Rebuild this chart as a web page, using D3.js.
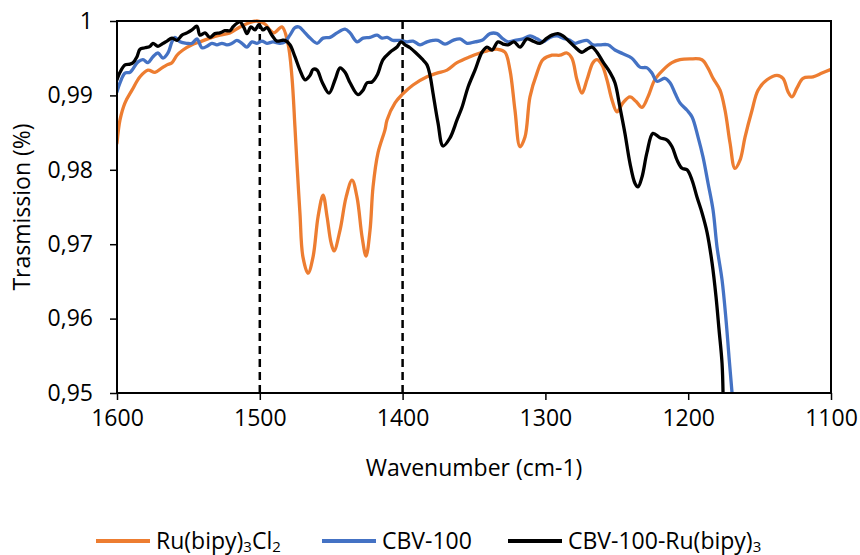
<!DOCTYPE html>
<html>
<head>
<meta charset="utf-8">
<script src="https://cdn.jsdelivr.net/npm/d3@7"></script>
<style>
  html, body { margin: 0; padding: 0; background: #fff; }
  svg { display: block; }
  text { font-family: "Open Sans", "Noto Sans", sans-serif; fill: #000; }
</style>
</head>
<body>
<svg id="chart" width="860" height="555"></svg>
<script>
// ---------- data ----------
const xTicks = [1600, 1500, 1400, 1300, 1200, 1100];
const yTicks = [0.95, 0.96, 0.97, 0.98, 0.99, 1];
const yTickLabels = ["0,95", "0,96", "0,97", "0,98", "0,99", "1"];
const markerLines = [1500, 1400];
const seriesNames = ["Ru(bipy)3Cl2", "CBV-100", "CBV-100-Ru(bipy)3"];
const seriesColors = ["#ED7D31", "#4472C4", "#000000"];

// Ru(bipy)3Cl2
const ruWn = [1600,1597.9,1594.4,1589.5,1583.9,1578.3,1573.4,1568.5,1565.0,1561.5,1558.0,1553.8,1547.5,1541.9,1534.9,1527.9,1520.9,1513.9,1508.3,1502.0,1496.4,1492.9,1490.0,1484.5,1480.3,1477.5,1475.4,1474.0,1471.9,1469.8,1466.2,1462.7,1459.2,1455.7,1452.9,1450.1,1448.0,1443.8,1439.6,1435.4,1431.9,1428.4,1425.6,1422.8,1420.7,1417.2,1412.3,1410.9,1405.3,1400.4,1392.7,1382.9,1375.9,1368.9,1361.9,1352.8,1345.8,1338.8,1333.2,1328.3,1324.8,1321.3,1317.8,1314.3,1310.8,1305.9,1301.7,1295.4,1289.8,1284.9,1281.4,1277.9,1274.4,1270.9,1266.7,1263.9,1260.4,1256.9,1253.4,1249.9,1245.7,1240.8,1236.6,1232.4,1228.2,1223.4,1217.7,1211.4,1205.8,1198.8,1190.4,1186.2,1182.6,1177.7,1174.2,1170.7,1167.3,1163.7,1160.2,1155.3,1151.1,1144.8,1137.8,1133.6,1130.1,1127.3,1123.8,1119.6,1112.6,1106.3,1100];
const ruT  = [0.9836,0.9867,0.9890,0.9907,0.9925,0.9934,0.9931,0.9937,0.9941,0.9944,0.9954,0.9961,0.9968,0.9972,0.9977,0.9981,0.9984,0.9992,0.9997,1.0000,0.9996,0.9988,0.9984,0.9992,0.9970,0.9925,0.9858,0.9809,0.9742,0.9683,0.9661,0.9683,0.9737,0.9766,0.9737,0.9702,0.9691,0.9719,0.9763,0.9786,0.9763,0.9710,0.9684,0.9719,0.9777,0.9823,0.9854,0.9867,0.9890,0.9901,0.9914,0.9925,0.9930,0.9934,0.9944,0.9952,0.9957,0.9961,0.9962,0.9958,0.9934,0.9880,0.9831,0.9844,0.9898,0.9930,0.9948,0.9954,0.9954,0.9957,0.9950,0.9921,0.9903,0.9921,0.9944,0.9948,0.9941,0.9921,0.9894,0.9878,0.9890,0.9898,0.9892,0.9884,0.9898,0.9921,0.9934,0.9944,0.9948,0.9949,0.9948,0.9937,0.9923,0.9907,0.9880,0.9836,0.9802,0.9813,0.9844,0.9880,0.9907,0.9921,0.9927,0.9923,0.9905,0.9898,0.9910,0.9923,0.9925,0.9930,0.9935];

// CBV-100
const cbvWn = [1600,1597.9,1594.4,1590.9,1585.3,1581.8,1578.3,1574.8,1571.3,1567.8,1564.3,1561.5,1559.4,1555.9,1551.0,1547.5,1544.0,1540.5,1537.0,1533.5,1530.0,1526.5,1523.0,1519.5,1516.0,1512.5,1509.0,1505.5,1502.0,1498.5,1495.0,1490.8,1485.9,1482.4,1478.9,1475.4,1472.5,1468.3,1464.8,1459.9,1455.7,1450.8,1445.9,1440.3,1436.8,1431.9,1427.7,1422.8,1417.9,1414.4,1410.9,1406.7,1401.8,1396.9,1392.7,1387.8,1382.9,1378.7,1375.2,1370.3,1364.7,1359.8,1354.9,1349.3,1344.4,1338.8,1333.9,1330.4,1326.2,1321.3,1315.7,1310.8,1305.9,1301.7,1296.8,1291.9,1287.7,1282.8,1279.3,1275.8,1270.9,1266.7,1261.8,1256.2,1251.3,1245.7,1239.4,1233.8,1228.8,1225.4,1221.9,1216.3,1212.7,1209.2,1205.8,1200.8,1197.3,1193.1,1189.6,1186.1,1182.6,1179.8,1176.3,1173.5,1171.4,1169.3];
const cbvT  = [0.9905,0.9917,0.9930,0.9931,0.9945,0.9948,0.9944,0.9952,0.9957,0.9950,0.9957,0.9972,0.9978,0.9972,0.9970,0.9970,0.9976,0.9964,0.9966,0.9970,0.9968,0.9970,0.9968,0.9970,0.9974,0.9970,0.9965,0.9972,0.9970,0.9973,0.9970,0.9972,0.9970,0.9972,0.9981,0.9991,0.9992,0.9984,0.9977,0.9970,0.9977,0.9978,0.9984,0.9989,0.9984,0.9972,0.9977,0.9978,0.9981,0.9977,0.9978,0.9974,0.9974,0.9972,0.9973,0.9968,0.9972,0.9974,0.9974,0.9969,0.9974,0.9976,0.9970,0.9972,0.9974,0.9983,0.9983,0.9977,0.9972,0.9974,0.9976,0.9980,0.9976,0.9972,0.9978,0.9980,0.9977,0.9974,0.9970,0.9972,0.9974,0.9968,0.9968,0.9968,0.9961,0.9956,0.9950,0.9938,0.9937,0.9930,0.9919,0.9923,0.9917,0.9903,0.9890,0.9880,0.9871,0.9844,0.9817,0.9782,0.9746,0.9696,0.9652,0.9598,0.9548,0.9500];

// CBV-100-Ru(bipy)3
const mixWn = [1600,1597.9,1594.4,1590.9,1588.8,1586.0,1583.9,1580.4,1576.9,1574.8,1571.3,1567.8,1565.0,1561.5,1558.0,1554.5,1551.0,1547.5,1544.0,1541.9,1538.4,1534.9,1531.4,1527.9,1524.4,1520.9,1518.8,1516.0,1513.9,1511.1,1509.0,1506.2,1503.4,1500.6,1497.8,1495.0,1491.5,1488.0,1484.5,1482.4,1478.9,1475.4,1471.9,1468.3,1464.8,1462.7,1459.9,1456.4,1451.5,1447.3,1443.8,1440.3,1436.8,1431.2,1427.7,1424.9,1421.4,1417.9,1413.7,1408.8,1403.9,1401.1,1398.3,1394.8,1390.6,1386.4,1382.9,1380.8,1378.7,1375.2,1371.7,1366.8,1361.9,1358.4,1354.2,1349.3,1344.4,1340.9,1337.4,1333.2,1329.7,1326.2,1322.0,1317.8,1312.9,1308.7,1303.8,1298.9,1295.4,1291.2,1287.7,1284.2,1279.3,1274.4,1270.9,1267.4,1263.9,1259.7,1254.8,1251.3,1247.8,1244.3,1240.8,1237.3,1235.2,1232.4,1228.9,1224.7,1219.8,1214.8,1211.3,1207.8,1204.3,1200.8,1197.3,1193.8,1190.3,1186.8,1183.3,1180.5,1178.4,1176.3,1175.6];
const mixT  = [0.9921,0.9931,0.9941,0.9942,0.9944,0.9952,0.9962,0.9964,0.9966,0.9970,0.9966,0.9970,0.9973,0.9977,0.9974,0.9981,0.9984,0.9988,0.9993,0.9981,0.9984,0.9978,0.9983,0.9984,0.9987,0.9987,0.9992,0.9997,0.9999,0.9991,0.9983,0.9992,0.9988,0.9995,0.9988,0.9991,0.9981,0.9973,0.9974,0.9974,0.9968,0.9952,0.9934,0.9921,0.9927,0.9935,0.9934,0.9918,0.9903,0.9921,0.9937,0.9931,0.9917,0.9901,0.9907,0.9917,0.9918,0.9927,0.9948,0.9958,0.9965,0.9972,0.9968,0.9964,0.9957,0.9949,0.9941,0.9927,0.9903,0.9863,0.9832,0.9843,0.9867,0.9884,0.9911,0.9934,0.9958,0.9965,0.9961,0.9972,0.9969,0.9968,0.9972,0.9965,0.9976,0.9973,0.9970,0.9977,0.9981,0.9983,0.9980,0.9974,0.9965,0.9958,0.9962,0.9965,0.9958,0.9945,0.9931,0.9917,0.9884,0.9849,0.9809,0.9782,0.9777,0.9790,0.9823,0.9849,0.9843,0.9840,0.9831,0.9813,0.9802,0.9800,0.9786,0.9763,0.9742,0.9716,0.9675,0.9629,0.9585,0.9540,0.9500];

// ---------- chart ----------
const svg = d3.select("#chart");
const m = { left: 117, right: 831, top: 21, bottom: 393 };
const x = d3.scaleLinear().domain([1600, 1100]).range([m.left, m.right]);
const y = d3.scaleLinear().domain([0.95, 1]).range([m.bottom, m.top]);

const series = [
  { name: seriesNames[0], color: seriesColors[0], data: ruWn.map((w, i) => [w, ruT[i]]) },
  { name: seriesNames[1], color: seriesColors[1], data: cbvWn.map((w, i) => [w, cbvT[i]]) },
  { name: seriesNames[2], color: seriesColors[2], data: mixWn.map((w, i) => [w, mixT[i]]) }
];

svg.append("defs").append("clipPath").attr("id", "clip")
  .append("rect").attr("x", m.left).attr("y", m.top - 4)
  .attr("width", m.right - m.left).attr("height", m.bottom - m.top + 4);

const fontSize = 23;

// y axis
const yAxis = d3.axisLeft(y).tickValues(yTicks)
  .tickFormat((d, i) => yTickLabels[i]).tickSize(7).tickPadding(17);
const gy = svg.append("g").attr("transform", `translate(${m.left},0)`).call(yAxis);
gy.select(".domain").remove();
gy.selectAll(".tick line").attr("stroke", "#000").attr("stroke-width", 1.5);
gy.selectAll(".tick text").style("font-size", fontSize + "px")
  .style("font-family", '"Open Sans", sans-serif').attr("fill", "#000");

// x axis
const xAxis = d3.axisBottom(x).tickValues(xTicks)
  .tickFormat(d3.format("d")).tickSize(7).tickPadding(10);
const gx = svg.append("g").attr("transform", `translate(0,${m.bottom})`).call(xAxis);
gx.select(".domain").remove();
gx.selectAll(".tick line").attr("stroke", "#000").attr("stroke-width", 1.5);
gx.selectAll(".tick text").style("font-size", fontSize + "px")
  .style("font-family", '"Open Sans", sans-serif').attr("fill", "#000");

// dashed marker lines
svg.selectAll(".marker").data(markerLines).enter().append("line")
  .attr("x1", d => x(d)).attr("x2", d => x(d))
  .attr("y1", y(1)).attr("y2", y(0.95))
  .attr("stroke", "#000").attr("stroke-width", 2.5)
  .attr("stroke-dasharray", "8,5");

// series lines
const line = d3.line().x(d => x(d[0])).y(d => y(d[1]))
  .curve(d3.curveCatmullRom.alpha(0.5));
svg.append("g").attr("clip-path", "url(#clip)")
  .selectAll("path").data(series).enter().append("path")
  .attr("d", d => line(d.data))
  .attr("fill", "none").attr("stroke", d => d.color)
  .attr("stroke-width", 3.3).attr("stroke-linejoin", "round").attr("stroke-linecap", "round");

// frame
svg.append("rect").attr("x", m.left).attr("y", m.top)
  .attr("width", m.right - m.left).attr("height", m.bottom - m.top)
  .attr("fill", "none").attr("stroke", "#000").attr("stroke-width", 2);

// axis titles
svg.append("text").attr("x", (m.left + m.right) / 2).attr("y", 476)
  .attr("text-anchor", "middle").style("font-size", fontSize + "px")
  .text("Wavenumber (cm-1)");
svg.append("text").attr("transform", `translate(30,${(m.top + m.bottom) / 2}) rotate(-90)`)
  .attr("text-anchor", "middle").style("font-size", fontSize + "px")
  .text("Trasmission (%)");

// legend
const legendItems = [
  { x: 96, color: seriesColors[0], parts: [["Ru(bipy)", false], ["3", true], ["Cl", false], ["2", true]] },
  { x: 322, color: seriesColors[1], parts: [["CBV-100", false]] },
  { x: 508, color: seriesColors[2], parts: [["CBV-100-Ru(bipy)", false], ["3", true]] }
];
const ly = 541;
legendItems.forEach(it => {
  svg.append("line").attr("x1", it.x).attr("x2", it.x + 54)
    .attr("y1", ly).attr("y2", ly).attr("stroke", it.color).attr("stroke-width", 4);
  const t = svg.append("text").attr("x", it.x + 60).attr("y", ly + 8)
    .style("font-size", fontSize + "px");
  let shifted = false;
  it.parts.forEach(([s, sub]) => {
    const ts = t.append("tspan").text(s);
    if (sub) {
      ts.attr("dy", 3).style("font-size", "15px");
      shifted = true;
    } else if (shifted) {
      ts.attr("dy", -3);
      shifted = false;
    }
  });
});
</script>
</body>
</html>
